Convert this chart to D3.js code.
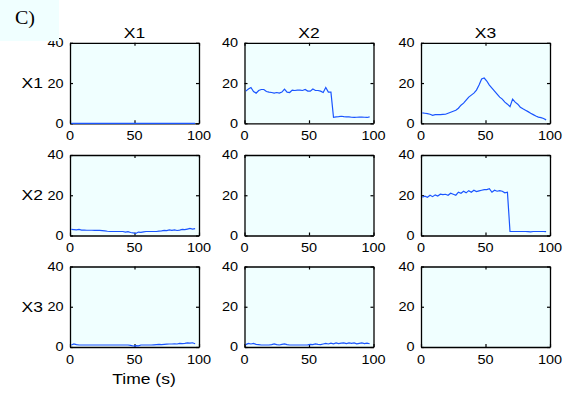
<!DOCTYPE html>
<html><head><meta charset="utf-8">
<script src="https://cdn.jsdelivr.net/npm/d3@7"></script>
<style>body{margin:0;background:#fff} svg{display:block}</style>
</head><body><svg id="c" width="571" height="398"></svg>
<script>
// ---------- data ----------
const varNames = ["X1", "X2", "X3"];
const xTicks = [0, 50, 100];
const yTicks = [0, 20, 40];
const xLabel = "Time (s)";
const panelTag = "C)";
const time = [1,3,5,7,9,11,13,15,17,19,21,23,25,27,29,31,33,35,37,39,41,43,45,47,49,
              51,53,55,57,59,61,63,65,67,69,71,73,75,77,79,81,83,85,87,89,91,93,95,97];
const x1_x1 = [0,0,0,0,0,0,0,0,0,0,0,0,0,0,0,0,0,0,0,0,0,0,0,0,0,
               0,0,0,0,0,0,0,0,0,0,0,0,0,0,0,0,0,0,0,0,0,0,0,0];
const x1_x2 = [16,17,17.8,15.8,15,16.3,16.8,16.8,15.8,15.5,15.3,15,15.3,15,15.5,17,15.5,15.3,16.5,16.3,
               16.5,16.5,16.3,16.8,16,16,17,16.3,16.3,16,15.3,17.8,15.5,15.5,3,
               3.2,3.3,3.5,3.3,3.2,3.2,3,2.9,3,3.1,3.1,3,2.9,3.2];
const x1_x3 = [5.2,5,4.8,4.5,4,4.3,4.3,4.3,4.4,4.5,5,5.5,6,6.5,7.5,9,10,11.5,13,14,
               15,16.5,19,22,22.5,21,19,17.5,16,14.5,13,12,10.5,9.5,8.3,
               12,10.5,9.5,8,7.2,6.5,5.8,5,4.3,3.6,3.1,2.8,2.4,1.7];
const x2_x1 = [3,2.9,2.8,3,2.7,2.7,2.6,2.6,2.6,2.5,2.5,2.5,2.4,2.3,2.1,2,2,2,2,2,
               2,1.7,1.9,1.5,1.3,1,1.7,1.6,1.8,2,2,2,2,2,2.2,
               2.3,2.5,2.4,2.8,2.6,2.8,2.5,2.7,3,2.9,3.2,3.5,3.2,3.4];
const x2_x3 = [19,19.5,19,20,19.3,20.2,19.6,20.5,20.3,20.5,20,21,20.5,20,21.5,21,22,21.2,22.3,21.5,
               22.5,21.8,22.2,22.5,22.8,22.8,23.3,21.5,22.5,22,22.3,22,21.2,21.5,2,
               2,2,2,2,2,2,1.9,1.8,2,2,2,2,2,1.9];
const x3_x1 = [1,1.5,1.2,1,1,1,1,1,1,1,1,1,1,1,1,1,1,1,1,1,
               1,1,1,0.8,0.5,0.7,0.6,1,1,1,1,1,1.1,1.2,1.3,
               1.2,1.3,1.4,1.5,1.5,1.6,1.5,1.8,1.7,1.8,2,1.9,2.1,1.6];
const x3_x2 = [1.2,1.8,1.5,1.8,1.3,1.2,1,1,1,1,1.2,1.5,1.2,1,1.3,1.5,1.2,1,1,1,
               1,1,1,1,1.1,1.3,1.2,1.5,1.3,1.2,1.5,1.8,1.5,1.9,1.6,
               2,1.7,1.9,2,1.7,2,1.8,2,1.6,1.8,2,1.7,1.9,1.6];

const panels = [
  [x1_x1, x1_x2, x1_x3],
  [x2_x1, null,  x2_x3],
  [x3_x1, x3_x2, null]
];

// ---------- layout ----------
const svg = d3.select("#c");
const colLeft = [70, 244.5, 421], rowTop = [42.8, 155, 266.5], W = 129, H = 80.5;
const FONT = "'Liberation Sans', Arial, Helvetica, sans-serif";
const BG = "#f0ffff", LINE = "#1a55ff";

function label(g, x, y, txt, size, anchor, sy, dy, family) {
  return g.append("text")
    .attr("transform", `translate(${x},${y}) scale(1,${sy})`)
    .attr("text-anchor", anchor)
    .attr("dy", dy || 0)
    .attr("font-family", family || FONT)
    .attr("font-size", size)
    .attr("fill", "#000")
    .text(txt);
}

panels.forEach((row, r) => row.forEach((series, c) => {
  const x = d3.scaleLinear().domain([0, 100]).range([colLeft[c], colLeft[c] + W]);
  const y = d3.scaleLinear().domain([0, 40]).range([rowTop[r] + H, rowTop[r]]);
  const g = svg.append("g");
  g.append("rect").attr("x", colLeft[c]).attr("y", rowTop[r])
    .attr("width", W).attr("height", H).attr("fill", BG);

  const axes = [
    [d3.axisBottom(x).tickValues(xTicks), `translate(0,${rowTop[r] + H})`],
    [d3.axisTop(x).tickValues(xTicks), `translate(0,${rowTop[r]})`],
    [d3.axisLeft(y).tickValues(yTicks), `translate(${colLeft[c]},0)`],
    [d3.axisRight(y).tickValues(yTicks), `translate(${colLeft[c] + W},0)`]
  ];
  axes.forEach(([ax, tr]) => {
    const a = g.append("g").attr("transform", tr)
      .call(ax.tickFormat("").tickSizeInner(-3).tickSizeOuter(0).tickPadding(0));
    a.select(".domain").attr("stroke", "#000").attr("stroke-width", 1.3);
    a.selectAll(".tick line").attr("stroke", "#000").attr("stroke-width", 1.2);
  });

  xTicks.forEach(v => label(g, x(v), rowTop[r] + H + 16.5, String(v), 14.5, "middle", 0.85));
  yTicks.forEach(v => label(g, colLeft[c] - 6.5, y(v), String(v), 14.5, "end", 0.85, "0.36em"));

  if (series) {
    const line = d3.line().x((d, i) => x(time[i])).y(d => y(d));
    g.append("path").datum(series).attr("d", line)
      .attr("fill", "none").attr("stroke", LINE).attr("stroke-width", 1.2);
  }
}));

// column titles & row labels
varNames.forEach((n, c) => label(svg, colLeft[c] + W / 2, 38, n, 17.5, "middle", 0.8));
varNames.forEach((n, r) => label(svg, 43, rowTop[r] + H / 2, n, 17.5, "end", 0.8, "0.36em"));
label(svg, 144, 384, xLabel, 17.5, "middle", 0.85);

// panel tag box
svg.append("rect").attr("x", 0).attr("y", 0).attr("width", 59).attr("height", 41).attr("fill", BG);
label(svg, 15, 23.5, panelTag, 20, "start", 0.95, 0, "'Liberation Serif', 'Times New Roman', serif");
</script>
</body></html>
